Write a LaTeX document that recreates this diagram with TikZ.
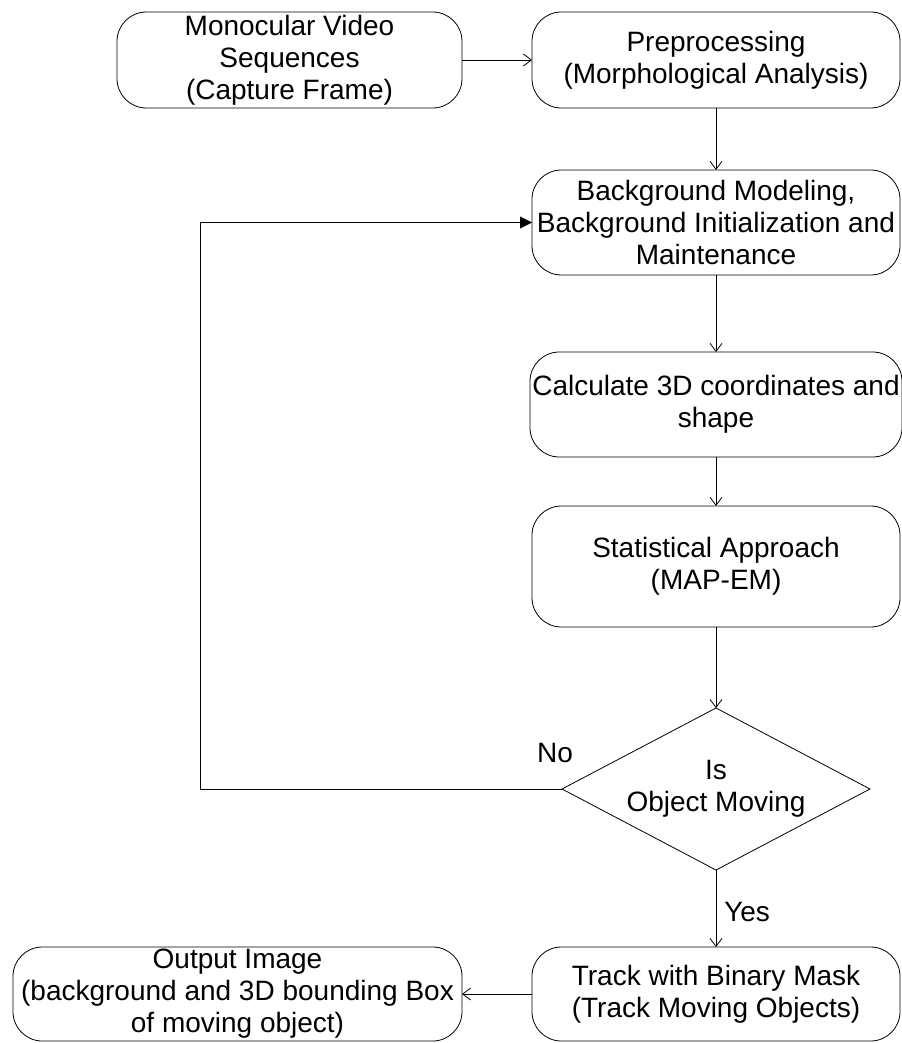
\documentclass[tikz,border=0pt]{standalone}
\usepackage{fontspec}
\setmainfont{Liberation Sans}
\usetikzlibrary{shapes.geometric,arrows.meta}

\begin{document}
\begin{tikzpicture}[x=0.75pt,y=-0.75pt,
  procbox/.style={draw,line width=0.6pt,rounded corners=22pt,align=center,
    inner sep=0pt,outer sep=0pt,font=\fontsize{21}{24}\selectfont},
  decbox/.style={draw,line width=0.6pt,diamond,aspect=1.9,align=center,
    inner sep=0pt,outer sep=0pt,minimum width=231pt,minimum height=121.5pt,
    font=\fontsize{21}{24}\selectfont},
  flow/.style={draw,line width=0.6pt,-{Straight Barb[length=6pt,width=9pt]}},
  loopflow/.style={draw,line width=0.6pt,-{Triangle[length=9pt,width=9pt]}},
  lbl/.style={font=\fontsize{21}{24}\selectfont,inner sep=0pt}
]
\useasboundingbox (0,0) rectangle (901,1043);

\node[procbox,minimum width=258.75pt,minimum height=72pt] (src) at (289.5,60)
  {Monocular Video\\Sequences\\(Capture Frame)};
\node[procbox,minimum width=276pt,minimum height=72pt] (pre) at (716,60)
  {Preprocessing\\(Morphological Analysis)};
\node[procbox,minimum width=276pt,minimum height=78.75pt] (bg) at (716,222.5)
  {Background Modeling,\\Background Initialization and\\Maintenance};
\node[procbox,minimum width=279pt,minimum height=78.75pt] (calc) at (716,404.5)
  {Calculate 3D coordinates and\\shape};
\node[procbox,minimum width=276pt,minimum height=90.75pt] (stat) at (716,566.5)
  {Statistical Approach\\(MAP-EM)};
\node[decbox] (dec) at (716,789) {Is\\Object Moving};
\node[procbox,minimum width=276pt,minimum height=70.5pt] (track) at (716,994)
  {Track with Binary Mask\\(Track Moving Objects)};
\node[procbox,minimum width=336.75pt,minimum height=70.5pt] (out) at (237.5,994)
  {Output Image\\(background and 3D bounding Box\\of moving object)};

\coordinate (loop) at (200,789);
\node[lbl] (no) at (555,753) {No};
\node[lbl,anchor=west] (yes) at (724,912) {Yes};

\draw[flow] (src.east) -- (pre.west);
\draw[flow] (pre.south) -- (bg.north);
\draw[flow] (bg.south) -- (calc.north);
\draw[flow] (calc.south) -- (stat.north);
\draw[flow] (stat.south) -- (dec.north);
\draw[loopflow] (dec.west) -- (loop) |- (bg.west);
\draw[flow] (dec.south) -- (track.north);
\draw[flow] (track.west) -- (out.east);
\end{tikzpicture}
\end{document}
